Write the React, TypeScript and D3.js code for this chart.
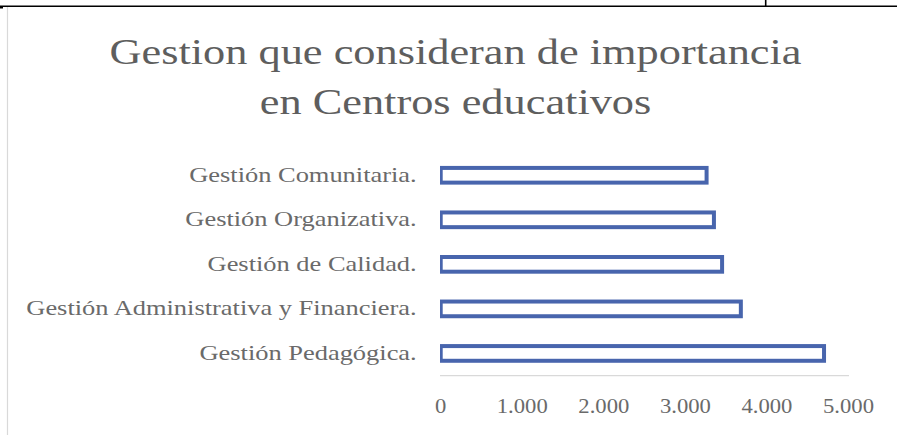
import React from "react";
import * as d3 from "d3";

const categories = [
  "Gestión Comunitaria.",
  "Gestión Organizativa.",
  "Gestión de Calidad.",
  "Gestión Administrativa y Financiera.",
  "Gestión Pedagógica.",
];
const values = [3.26, 3.35, 3.45, 3.68, 4.7];
const tickValues = [0, 1, 2, 3, 4, 5];
const tickLabels = ["0", "1.000", "2.000", "3.000", "4.000", "5.000"];
const titleLines = ["Gestion que consideran de importancia", "en Centros educativos"];

const W = 897;
const H = 435;
const FONT = "'Liberation Serif', 'Times New Roman', serif";
const TITLE_COLOR = "#5e5e5e";
const TEXT = "#6a6a6a";
const BAR = "#4865AD";

export default function App() {
  const x = d3.scaleLinear().domain([0, 5]).range([440.7, 848.5]);
  const y = d3
    .scaleBand<string>()
    .domain(categories)
    .range([153, 375.7])
    .paddingInner(0.67)
    .paddingOuter(0.335);
  const bw = y.bandwidth();

  return (
    <svg
      width={W}
      height={H}
      viewBox={`0 0 ${W} ${H}`}
      style={{ position: "absolute", left: 0, top: 0, background: "#fff" }}
    >
      <defs>
        <clipPath id="plotclip">
          <rect x={440} y={140} width={420} height={240} />
        </clipPath>
      </defs>
      {/* page decorations */}
      <line x1={7.5} x2={7.5} y1={7} y2={H} stroke="#d9d9d9" strokeWidth={1.2} />
      <line x1={0} x2={W} y1={6.2} y2={6.2} stroke="#000" strokeWidth={1.6} />
      <line x1={765.7} x2={765.7} y1={0} y2={6.5} stroke="#000" strokeWidth={1.6} />
      <rect x={0} y={6} width={3} height={2.5} fill="#000" />

      {/* title */}
      {titleLines.map((t, i) => (
        <text
          key={t}
          transform={`translate(455.5, ${64 + i * 50}) scale(1.215, 1)`}
          textAnchor="middle"
          fontFamily={FONT}
          fontSize={36.5}
          fill={TITLE_COLOR}
        >
          {t}
        </text>
      ))}

      {/* bars */}
      <g clipPath="url(#plotclip)">
        {categories.map((c, i) => (
          <rect
            key={c}
            x={x(0)}
            y={y(c)!}
            width={x(values[i]) - x(0)}
            height={bw}
            fill="#fff"
            stroke={BAR}
            strokeWidth={4}
          />
        ))}
      </g>

      {/* axis line */}
      <line x1={440} x2={849} y1={375.7} y2={375.7} stroke="#d9d9d9" strokeWidth={1.3} />

      {/* category labels */}
      {categories.map((c) => (
        <text
          key={c}
          transform={`translate(416.7, ${y(c)! + bw / 2 + 6.5}) scale(1.23, 1)`}
          textAnchor="end"
          fontFamily={FONT}
          fontSize={21.5}
          fill={TEXT}
        >
          {c}
        </text>
      ))}

      {/* tick labels */}
      {tickValues.map((v, i) => (
        <text
          key={v}
          transform={`translate(${x(v)}, 413) scale(1.03, 1)`}
          textAnchor="middle"
          fontFamily={FONT}
          fontSize={22}
          fill={TEXT}
        >
          {tickLabels[i]}
        </text>
      ))}
    </svg>
  );
}
